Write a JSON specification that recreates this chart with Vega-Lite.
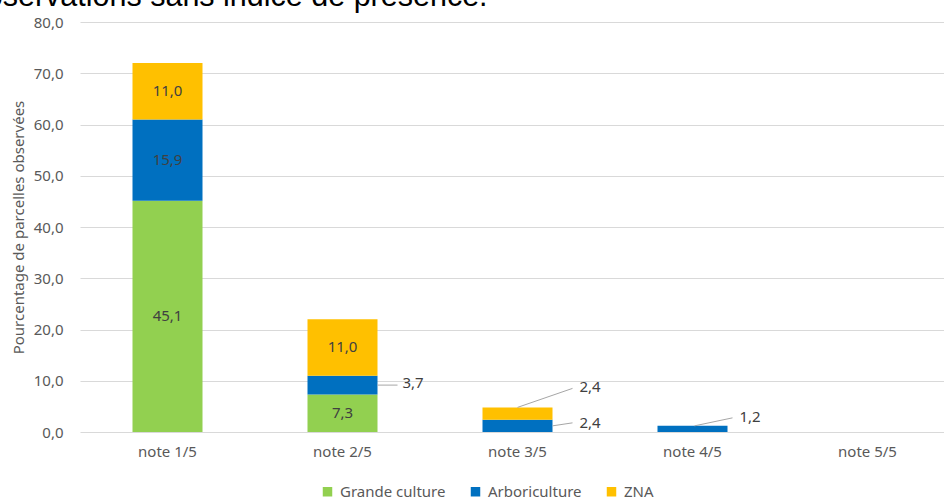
{
  "$schema": "https://vega.github.io/schema/vega-lite/v6.json",
  "autosize": {"type": "none"},
  "padding": {"left": 80, "top": 22, "right": 0, "bottom": 68},
  "width": 864,
  "height": 410,
  "background": "white",
  "title": {
    "text": "Observations sans indice de présence.",
    "font": "Liberation Sans",
    "fontSize": 30.5,
    "fontWeight": "normal",
    "color": "#000000",
    "anchor": "start",
    "frame": "group",
    "baseline": "alphabetic",
    "offset": 0,
    "dx": -118,
    "dy": 21
  },
  "config": {
    "view": {"stroke": null},
    "font": "Noto Sans",
    "text": {"font": "Noto Sans"}
  },
  "data": {
    "values": [
      {"note": "note 1/5", "type": "Grande culture", "value": 45.1},
      {"note": "note 1/5", "type": "Arboriculture", "value": 15.9},
      {"note": "note 1/5", "type": "ZNA", "value": 11.0},
      {"note": "note 2/5", "type": "Grande culture", "value": 7.3},
      {"note": "note 2/5", "type": "Arboriculture", "value": 3.7},
      {"note": "note 2/5", "type": "ZNA", "value": 11.0},
      {"note": "note 3/5", "type": "Arboriculture", "value": 2.4},
      {"note": "note 3/5", "type": "ZNA", "value": 2.4},
      {"note": "note 4/5", "type": "Arboriculture", "value": 1.2}
    ]
  },
  "transform": [
    {"calculate": "indexof(['Grande culture','Arboriculture','ZNA'], datum.type)", "as": "k"},
    {"stack": "value", "groupby": ["note"], "sort": [{"field": "k", "order": "ascending"}], "as": ["v0", "v1"]},
    {"calculate": "(datum.v0 + datum.v1) / 2", "as": "mid"},
    {"calculate": "replace(format(datum.value, '.1f'), '.', ',')", "as": "lab"}
  ],
  "encoding": {
    "x": {
      "field": "note",
      "type": "nominal",
      "scale": {
        "domain": ["note 1/5", "note 2/5", "note 3/5", "note 4/5", "note 5/5"],
        "range": [0, 875],
        "paddingInner": 0.6,
        "paddingOuter": 0.3
      },
      "axis": {
        "title": null,
        "domain": false,
        "ticks": false,
        "labelAngle": 0,
        "labelFont": "Noto Sans",
        "labelFontSize": 15,
        "labelColor": "#595959",
        "labelPadding": 12,
        "grid": false
      }
    }
  },
  "layer": [
    {
      "mark": {"type": "bar"},
      "encoding": {
        "y": {
          "field": "v1",
          "type": "quantitative",
          "scale": {"domain": [0, 80], "nice": false},
          "axis": {
            "title": "Pourcentage de parcelles observées",
            "titleFont": "Noto Sans",
            "titleFontSize": 15,
            "titleFontWeight": "normal",
            "titleColor": "#595959",
            "titlePadding": 7,
            "values": [0, 10, 20, 30, 40, 50, 60, 70, 80],
            "labelExpr": "replace(format(datum.value, '.1f'), '.', ',')",
            "labelFont": "Noto Sans",
            "labelFontSize": 15,
            "labelColor": "#595959",
            "labelPadding": 17,
            "domain": false,
            "ticks": false,
            "grid": true,
            "gridColor": "#d9d9d9",
            "gridWidth": 1
          }
        },
        "y2": {"field": "v0"},
        "color": {
          "field": "type",
          "type": "nominal",
          "scale": {
            "domain": ["Grande culture", "Arboriculture", "ZNA"],
            "range": ["#92d050", "#0070c0", "#ffc000"]
          },
          "legend": {
            "title": null,
            "orient": "none",
            "legendX": 240,
            "legendY": 462,
            "padding": 0,
            "direction": "horizontal",
            "symbolType": "square",
            "symbolSize": 90,
            "symbolStrokeWidth": 0,
            "labelFont": "Noto Sans",
            "labelFontSize": 15,
            "labelColor": "#595959",
            "labelOffset": 5,
            "columnPadding": 22
          }
        }
      }
    },
    {
      "transform": [{"filter": "datum.value >= 5"}],
      "mark": {"type": "text", "fontSize": 15, "color": "#404040", "baseline": "middle", "align": "center"},
      "encoding": {
        "y": {"field": "mid", "type": "quantitative"},
        "text": {"field": "lab"}
      }
    },
    {
      "transform": [{"filter": "datum.note == 'note 2/5' && datum.type == 'Arboriculture'"}],
      "mark": {"type": "rule", "color": "#a6a6a6", "strokeWidth": 1, "xOffset": 35, "x2Offset": 55},
      "encoding": {
        "y": {"field": "mid", "type": "quantitative"},
        "x2": {"field": "note"},
        "y2": {"field": "mid"}
      }
    },
    {
      "transform": [{"filter": "datum.note == 'note 2/5' && datum.type == 'Arboriculture'"}],
      "mark": {"type": "text", "fontSize": 15, "color": "#404040", "baseline": "middle", "align": "left", "dx": 60, "dy": -2},
      "encoding": {
        "y": {"field": "mid", "type": "quantitative"},
        "text": {"field": "lab"}
      }
    },
    {
      "transform": [{"filter": "datum.note == 'note 3/5' && datum.type == 'ZNA'"}],
      "mark": {"type": "rule", "color": "#a6a6a6", "strokeWidth": 1, "xOffset": 0, "x2Offset": 55, "yOffset": 0, "y2Offset": -19},
      "encoding": {
        "y": {"field": "v1", "type": "quantitative"},
        "x2": {"field": "note"},
        "y2": {"field": "v1"}
      }
    },
    {
      "transform": [{"filter": "datum.note == 'note 3/5' && datum.type == 'ZNA'"}],
      "mark": {"type": "text", "fontSize": 15, "color": "#404040", "baseline": "middle", "align": "left", "dx": 62, "dy": -20},
      "encoding": {
        "y": {"field": "v1", "type": "quantitative"},
        "text": {"field": "lab"}
      }
    },
    {
      "transform": [{"filter": "datum.note == 'note 3/5' && datum.type == 'Arboriculture'"}],
      "mark": {"type": "rule", "color": "#a6a6a6", "strokeWidth": 1, "xOffset": 35, "x2Offset": 55, "yOffset": 0, "y2Offset": -3},
      "encoding": {
        "y": {"field": "mid", "type": "quantitative"},
        "x2": {"field": "note"},
        "y2": {"field": "mid"}
      }
    },
    {
      "transform": [{"filter": "datum.note == 'note 3/5' && datum.type == 'Arboriculture'"}],
      "mark": {"type": "text", "fontSize": 15, "color": "#404040", "baseline": "middle", "align": "left", "dx": 62, "dy": -3},
      "encoding": {
        "y": {"field": "mid", "type": "quantitative"},
        "text": {"field": "lab"}
      }
    },
    {
      "transform": [{"filter": "datum.note == 'note 4/5' && datum.type == 'Arboriculture'"}],
      "mark": {"type": "rule", "color": "#a6a6a6", "strokeWidth": 1, "xOffset": 2, "x2Offset": 40, "yOffset": 0, "y2Offset": -8},
      "encoding": {
        "y": {"field": "v1", "type": "quantitative"},
        "x2": {"field": "note"},
        "y2": {"field": "v1"}
      }
    },
    {
      "transform": [{"filter": "datum.note == 'note 4/5' && datum.type == 'Arboriculture'"}],
      "mark": {"type": "text", "fontSize": 15, "color": "#404040", "baseline": "middle", "align": "left", "dx": 47, "dy": -9},
      "encoding": {
        "y": {"field": "v1", "type": "quantitative"},
        "text": {"field": "lab"}
      }
    }
  ]
}
